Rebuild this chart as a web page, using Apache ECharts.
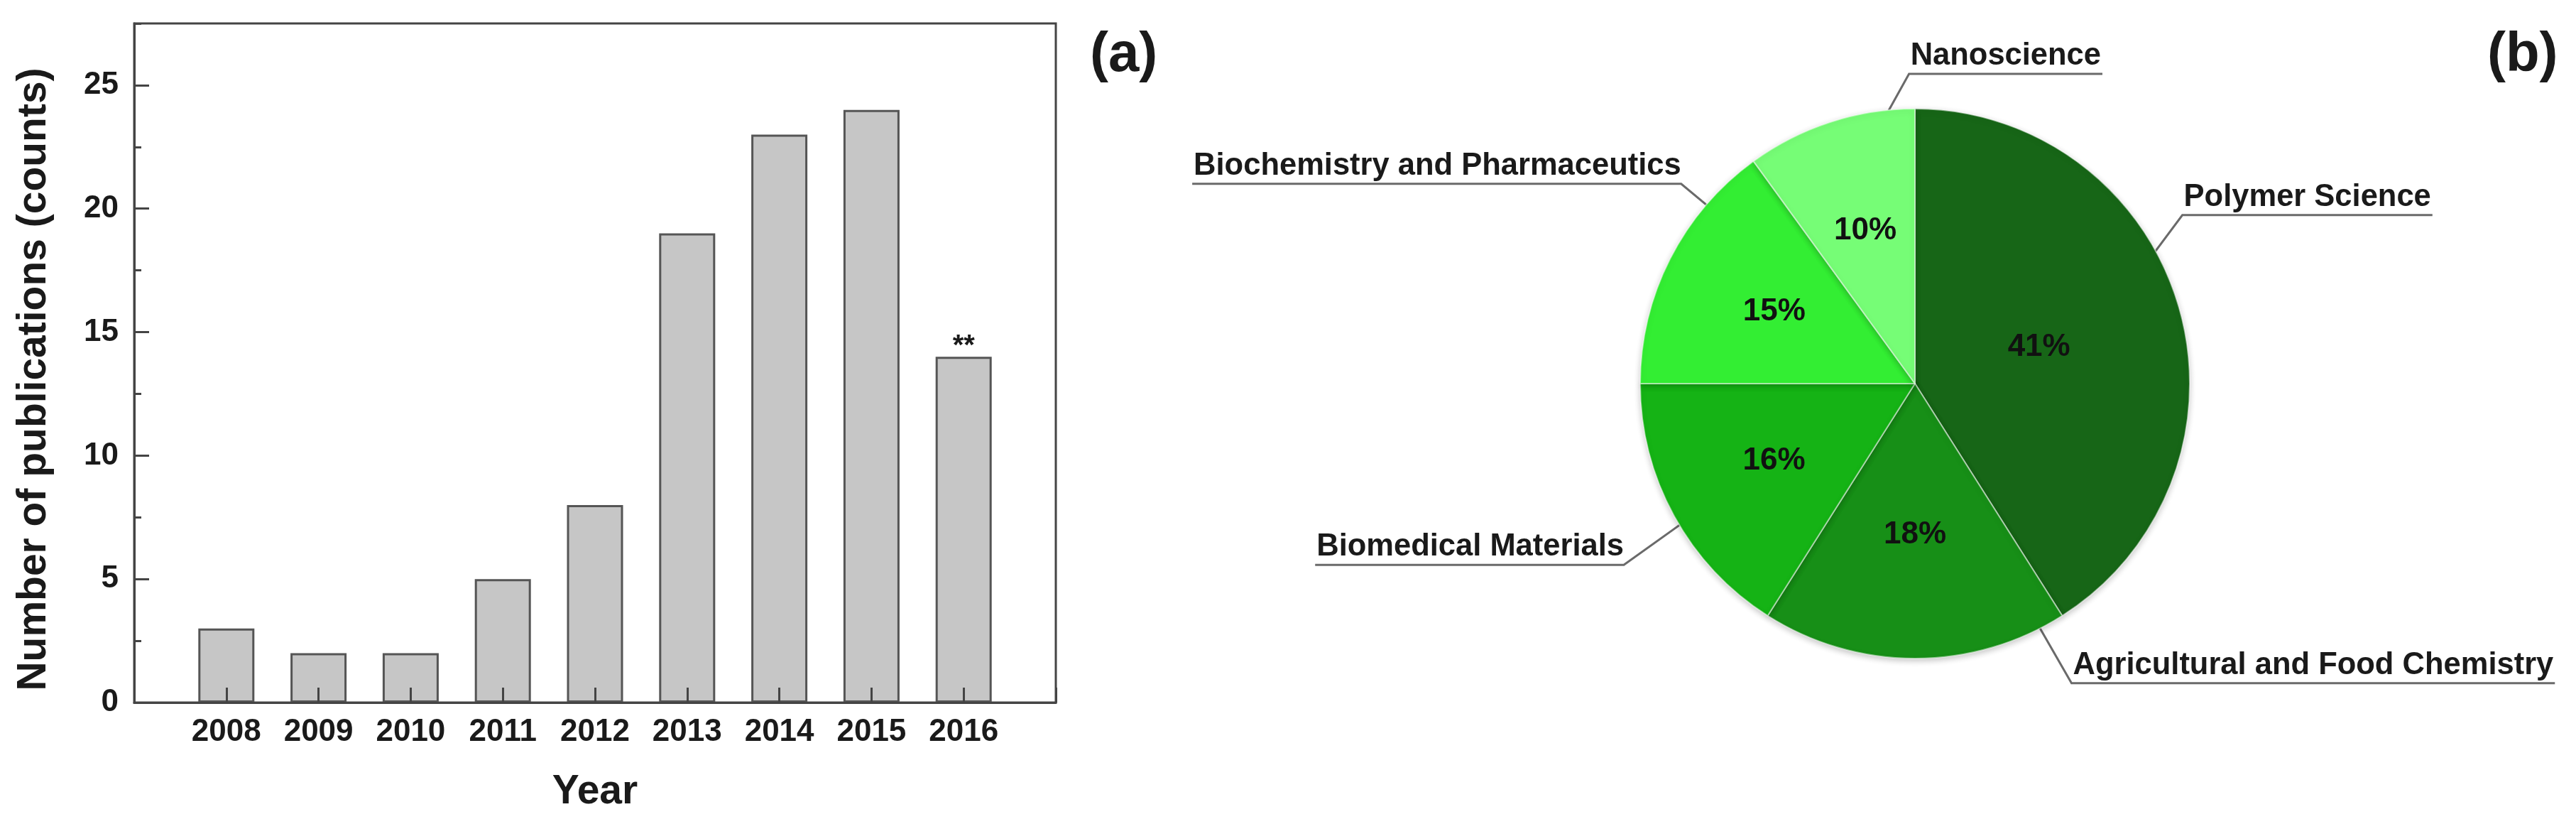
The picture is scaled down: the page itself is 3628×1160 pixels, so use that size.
<!DOCTYPE html>
<html>
<head>
<meta charset="utf-8">
<script src="https://cdn.jsdelivr.net/npm/echarts@6/dist/echarts.min.js"></script>
<style>
html,body{margin:0;padding:0;background:#fff;}
#chart{width:3628px;height:1160px;}
</style>
</head>
<body>
<div id="chart"></div>
<script>
// ---- data ----
const years = [2008, 2009, 2010, 2011, 2012, 2013, 2014, 2015, 2016];
const counts = [3, 2, 2, 5, 8, 19, 23, 24, 14];
const notes = ['', '', '', '', '', '', '', '', '**'];
const yTickValues = [0, 5, 10, 15, 20, 25];
const fields = ['Polymer Science', 'Agricultural and Food Chemistry', 'Biomedical Materials', 'Biochemistry and Pharmaceutics', 'Nanoscience'];
const shares = [41, 18, 16, 15, 10];
const panelTags = ['(a)', '(b)'];

// ---- styles / layout ----
const fieldColors = ['#176617', '#178f17', '#15b315', '#33ee33', '#76fd76'];
const FONT = '"Liberation Sans", Arial, Helvetica, sans-serif';
const PIE_CX = 2697, PIE_CY = 540, PIE_R = 387;
// outer label guide: start angle/radius, elbow angle/radius (fractions of R), side
const labelGuides = [
  {a0: 64.9, r0: 0.876, a1: 57.8, r1: 1.150, side: 'right'},
  {a0: 153.3, r0: 0.879, a1: 152.4, r1: 1.230, side: 'right'},
  {a0: 239.6, r0: 0.884, a1: 238.1, r1: 1.248, side: 'left'},
  {a0: 310.7, r0: 0.879, a1: 310.5, r1: 1.119, side: 'left'},
  {a0: 351.7, r0: 0.933, a1: 358.9, r1: 1.127, side: 'right'}
];
const innerLabelR = [0.47, 0.55, 0.585, 0.575, 0.585];

function polar(angleDeg, rFrac) {
  const a = angleDeg * Math.PI / 180;
  return [PIE_CX + PIE_R * rFrac * Math.sin(a), PIE_CY - PIE_R * rFrac * Math.cos(a)];
}
const total = shares.reduce((s, v) => s + v, 0);
const midAngles = [];
(function () {
  let cum = 0;
  shares.forEach(v => { midAngles.push((cum + v / 2) / total * 360); cum += v; });
})();

const chart = echarts.init(document.getElementById('chart'), null, {renderer: 'canvas'});

const axisColor = '#444';
const option = {
  animation: false,
  backgroundColor: '#fff',
  textStyle: {fontFamily: FONT},
  title: [
    {text: panelTags[0], left: 1535, top: 39, padding: 0,
     textStyle: {fontSize: 78, fontWeight: 'bold', color: '#1a1a1a', fontFamily: FONT}},
    {text: panelTags[1], left: 3503, top: 39, padding: 0,
     textStyle: {fontSize: 78, fontWeight: 'bold', color: '#1a1a1a', fontFamily: FONT}}
  ],
  grid: {left: 189, top: 33, right: 2141, bottom: 171, show: true,
         borderColor: axisColor, borderWidth: 3, backgroundColor: 'transparent'},
  xAxis: {
    type: 'value', min: 2007, max: 2017, interval: 1, z: 5,
    name: 'Year', nameLocation: 'middle', nameGap: 98,
    nameTextStyle: {fontSize: 57, fontWeight: 'bold', color: '#1a1a1a', fontFamily: FONT},
    axisLine: {show: true, lineStyle: {color: axisColor, width: 3}},
    axisTick: {show: true, inside: true, length: 21, lineStyle: {color: axisColor, width: 3}},
    axisLabel: {
      margin: 20, fontSize: 44, fontWeight: 'bold', color: '#1a1a1a', fontFamily: FONT,
      formatter: v => (years.indexOf(v) >= 0 ? String(v) : '')
    },
    splitLine: {show: false}
  },
  yAxis: [
    {
      type: 'value', min: 0, max: 27.5, interval: 5, z: 5, position: 'left',
      name: 'Number of publications (counts)', nameLocation: 'middle', nameGap: 112, nameRotate: 90,
      nameTextStyle: {fontSize: 57, fontWeight: 'bold', color: '#1a1a1a', fontFamily: FONT, padding: [0, 46, 0, 0]},
      axisLine: {show: true, lineStyle: {color: axisColor, width: 3}},
      axisTick: {show: true, inside: true, length: 21, lineStyle: {color: axisColor, width: 3}},
      axisLabel: {
        margin: 22, fontSize: 44, fontWeight: 'bold', color: '#1a1a1a', fontFamily: FONT,
        showMaxLabel: false,
        formatter: v => (yTickValues.indexOf(v) >= 0 ? String(v) : '')
      },
      splitLine: {show: false}
    },
    {
      type: 'value', min: 0, max: 27.5, interval: 2.5, z: 4, position: 'left',
      axisLine: {show: false},
      axisTick: {show: true, inside: true, length: 10, lineStyle: {color: axisColor, width: 3}},
      axisLabel: {show: false},
      splitLine: {show: false}
    }
  ],
  series: [
    {
      type: 'bar',
      xAxisIndex: 0, yAxisIndex: 0,
      barWidth: 79,
      data: years.map((y, i) => [y, counts[i]]),
      itemStyle: {color: '#c6c6c6', borderColor: '#555', borderWidth: 3},
      label: {
        show: true, position: 'top', distance: -6,
        fontSize: 40, fontWeight: 'bold', color: '#1a1a1a', fontFamily: FONT,
        formatter: p => notes[p.dataIndex]
      }
    },
    {
      type: 'pie',
      center: [PIE_CX, PIE_CY],
      radius: PIE_R,
      startAngle: 90,
      clockwise: true,
      avoidLabelOverlap: false,
      data: fields.map((n, i) => ({name: n, value: shares[i], itemStyle: {color: fieldColors[i]}})),
      itemStyle: {borderColor: 'rgba(255,255,255,0.5)', borderWidth: 2,
                  shadowBlur: 8, shadowColor: 'rgba(0,0,0,0.22)', shadowOffsetY: 3},
      label: {
        show: true, position: 'outside', formatter: '{b}',
        fontSize: 43.5, fontWeight: 'bold', color: '#1a1a1a', fontFamily: FONT
      },
      labelLine: {show: true, lineStyle: {color: '#6a6a6a', width: 3}},
      labelLayout: function (params) {
        const g = labelGuides[params.dataIndex];
        const s = polar(g.a0, g.r0), e = polar(g.a1, g.r1);
        const w = params.labelRect.width;
        const right = g.side === 'right';
        const endX = right ? e[0] + w + 4 : e[0] - w - 2;
        return {
          x: right ? e[0] + 2 : e[0],
          y: e[1] - 3,
          align: right ? 'left' : 'right',
          verticalAlign: 'bottom',
          labelLinePoints: [s, e, [endX, e[1]]]
        };
      },
      emphasis: {disabled: true}
    },
    {
      type: 'pie',
      center: [PIE_CX, PIE_CY],
      radius: PIE_R,
      startAngle: 90,
      clockwise: true,
      silent: true,
      z: 3,
      data: fields.map((n, i) => ({name: n, value: shares[i]})),
      itemStyle: {color: 'rgba(0,0,0,0)', borderWidth: 0},
      label: {
        show: true, position: 'inside', formatter: p => p.value + '%',
        fontSize: 44, fontWeight: 'bold', color: '#111', fontFamily: FONT
      },
      labelLine: {show: false},
      labelLayout: function (params) {
        const i = params.dataIndex;
        const p = polar(midAngles[i], innerLabelR[i]);
        return {x: p[0], y: p[1], align: 'center', verticalAlign: 'middle'};
      },
      emphasis: {disabled: true}
    }
  ]
};
chart.setOption(option);
</script>
</body>
</html>
